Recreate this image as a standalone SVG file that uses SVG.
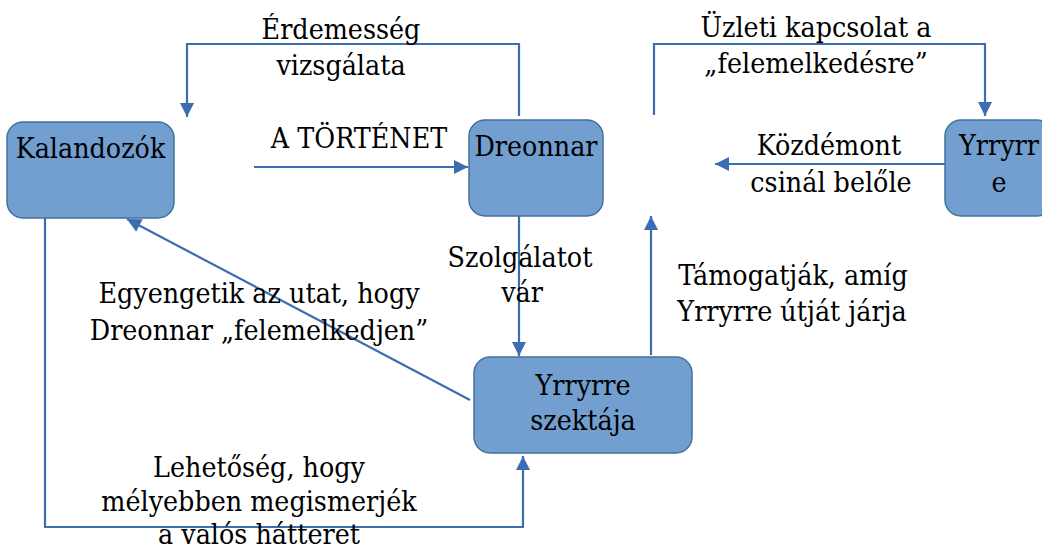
<svg xmlns="http://www.w3.org/2000/svg" width="1042" height="551" viewBox="0 0 1042 551">
  <defs>
    <marker id="arrow" markerUnits="userSpaceOnUse" markerWidth="16" markerHeight="16" refX="15" refY="8" orient="auto">
      <path d="M1,1 L15,8 L1,15 z" fill="#3d6db1"/>
    </marker>
    <style>
      .node rect { fill: #729fcf; stroke: #41719c; stroke-width: 1.5; }
      .edge { fill: none; stroke: #3d6db1; stroke-width: 2.2; }
      text { font-size: 28.3px; fill: #000; text-anchor: middle; font-family: "DejaVu Serif Condensed", "DejaVu Serif", serif; }
    </style>
  </defs>

  <rect width="1042" height="551" fill="#fff"/>

  <!-- connectors -->
  <g id="connectors">
    <path class="edge" d="M519,116 L519,44 L187,44 L187,117" marker-end="url(#arrow)"/>
    <path class="edge" d="M654,115 L654,44 L985,44 L985,116" marker-end="url(#arrow)"/>
    <path class="edge" d="M254,167 L468,167" marker-end="url(#arrow)"/>
    <path class="edge" d="M945,164 L715,164" marker-end="url(#arrow)"/>
    <path class="edge" d="M519,216 L519,356" marker-end="url(#arrow)"/>
    <path class="edge" d="M651,355 L651,216" marker-end="url(#arrow)"/>
    <path class="edge" d="M470,400 L127,219" marker-end="url(#arrow)"/>
    <path class="edge" d="M45,218 L45,527 L523,527 L523,456" marker-end="url(#arrow)"/>
  </g>

  <!-- connector labels -->
  <g id="labels">
    <text x="341" y="39">Érdemesség</text>
    <text x="341" y="75">vizsgálata</text>
    <text x="816" y="37">Üzleti kapcsolat a</text>
    <text x="816" y="73">„felemelkedésre”</text>
    <text x="359" y="148">A TÖRTÉNET</text>
    <text x="829" y="155">Közdémont</text>
    <text x="831" y="192">csinál belőle</text>
    <text x="520" y="267">Szolgálatot</text>
    <text x="522" y="302">vár</text>
    <text x="793" y="285">Támogatják, amíg</text>
    <text x="792" y="321">Yrryrre útját járja</text>
    <text x="259" y="303">Egyengetik az utat, hogy</text>
    <text x="259" y="340">Dreonnar „felemelkedjen”</text>
    <text x="259" y="477">Lehetőség, hogy</text>
    <text x="259" y="511">mélyebben megismerjék</text>
    <text x="259" y="544">a valós hátteret</text>
  </g>

  <!-- nodes -->
  <g id="kalandozok" class="node">
    <rect x="7" y="122" width="167" height="96" rx="16"/>
    <text x="90.5" y="158">Kalandozók</text>
  </g>
  <g id="dreonnar" class="node">
    <rect x="469" y="120" width="134" height="96" rx="16"/>
    <text x="536" y="156">Dreonnar</text>
  </g>
  <g id="yrryrre" class="node">
    <rect x="945" y="120" width="108" height="96" rx="16"/>
    <text x="999" y="155">Yrryrr</text>
    <text x="999" y="192">e</text>
  </g>
  <g id="szektaja" class="node">
    <rect x="474" y="357" width="218" height="96" rx="16"/>
    <text x="583" y="395">Yrryrre</text>
    <text x="583" y="430">szektája</text>
  </g>
</svg>
